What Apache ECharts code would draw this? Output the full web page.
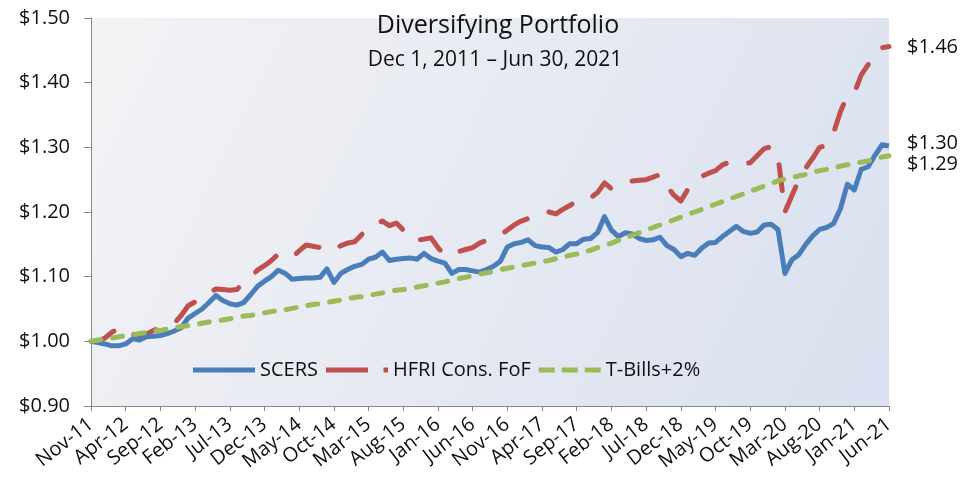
<!DOCTYPE html>
<html>
<head>
<meta charset="utf-8">
<script src="https://cdn.jsdelivr.net/npm/echarts@6/dist/echarts.min.js"></script>
<style>
  html, body { margin: 0; padding: 0; background: #fff; }
  #main { width: 972px; height: 482px; }
</style>
</head>
<body>
<div id="main"></div>
<script>
// monthly, Nov-11 .. Jun-21
const monthNames = ['Jan','Feb','Mar','Apr','May','Jun','Jul','Aug','Sep','Oct','Nov','Dec'];
const categories = [];
for (let k = 0; k < 116; k++) {
  const m = (10 + k) % 12;
  const y = 11 + Math.floor((10 + k) / 12);
  categories.push(monthNames[m] + '-' + String(y).padStart(2, '0'));
}

const tickLabels = ['Nov-11','Apr-12','Sep-12','Feb-13','Jul-13','Dec-13','May-14','Oct-14',
  'Mar-15','Aug-15','Jan-16','Jun-16','Nov-16','Apr-17','Sep-17','Feb-18','Jul-18','Dec-18',
  'May-19','Oct-19','Mar-20','Aug-20','Jan-21','Jun-21'];

const scers = [
  1.000, 0.998, 0.996, 0.993, 0.993, 0.996, 1.004, 1.002, 1.007, 1.008,
  1.009, 1.012, 1.016, 1.021, 1.036, 1.043, 1.050, 1.060, 1.071, 1.063,
  1.058, 1.056, 1.060, 1.072, 1.085, 1.093, 1.100, 1.110, 1.105, 1.096,
  1.097, 1.098, 1.098, 1.099, 1.112, 1.091, 1.105, 1.111, 1.116, 1.119,
  1.127, 1.130, 1.138, 1.125, 1.127, 1.128, 1.129, 1.127, 1.136, 1.128,
  1.124, 1.121, 1.105, 1.111, 1.111, 1.109, 1.107, 1.111, 1.116, 1.124,
  1.146, 1.151, 1.153, 1.157, 1.148, 1.146, 1.145, 1.138, 1.142, 1.151,
  1.151, 1.158, 1.159, 1.168, 1.193, 1.172, 1.162, 1.168, 1.166, 1.159,
  1.156, 1.157, 1.161, 1.148, 1.142, 1.131, 1.136, 1.133, 1.144, 1.152,
  1.153, 1.162, 1.170, 1.178, 1.170, 1.167, 1.169, 1.180, 1.181, 1.173,
  1.105, 1.126, 1.134, 1.150, 1.163, 1.173, 1.176, 1.182, 1.205, 1.243,
  1.234, 1.266, 1.270, 1.288, 1.304, 1.302
];

const hfri = [
  1.000, 1.000, 1.005, 1.014, 1.020, 1.021, 1.012, 1.004, 1.011, 1.017,
  1.021, 1.024, 1.028, 1.040, 1.055, 1.061, 1.068, 1.075, 1.081, 1.080,
  1.079, 1.080, 1.090, 1.100, 1.110, 1.117, 1.125, 1.135, 1.133, 1.130,
  1.140, 1.149, 1.147, 1.145, 1.142, 1.140, 1.148, 1.152, 1.154, 1.165,
  1.175, 1.181, 1.186, 1.179, 1.183, 1.172, 1.158, 1.156, 1.158, 1.160,
  1.145, 1.133, 1.134, 1.139, 1.142, 1.145, 1.152, 1.156, 1.160, 1.165,
  1.172, 1.180, 1.186, 1.190, 1.193, 1.198, 1.200, 1.197, 1.204, 1.210,
  1.217, 1.222, 1.222, 1.230, 1.245, 1.236, 1.240, 1.244, 1.248, 1.249,
  1.250, 1.254, 1.258, 1.240, 1.226, 1.217, 1.235, 1.249, 1.255, 1.260,
  1.264, 1.273, 1.277, 1.274, 1.275, 1.276, 1.287, 1.298, 1.301, 1.287,
  1.200, 1.225, 1.250, 1.268, 1.283, 1.300, 1.303, 1.322, 1.355, 1.380,
  1.384, 1.412, 1.428, 1.447, 1.454, 1.456
];

const tbills = [
  1.000, 1.002, 1.003, 1.005, 1.007, 1.009, 1.010, 1.012, 1.014, 1.016,
  1.017, 1.019, 1.021, 1.023, 1.024, 1.026, 1.028, 1.030, 1.031, 1.033,
  1.035, 1.037, 1.039, 1.040, 1.042, 1.044, 1.046, 1.048, 1.049, 1.051,
  1.053, 1.055, 1.057, 1.058, 1.060, 1.062, 1.064, 1.066, 1.068, 1.069,
  1.071, 1.073, 1.075, 1.077, 1.079, 1.080, 1.082, 1.084, 1.086, 1.088,
  1.090, 1.092, 1.095, 1.097, 1.099, 1.102, 1.104, 1.106, 1.108, 1.111,
  1.113, 1.115, 1.117, 1.119, 1.121, 1.123, 1.125, 1.128, 1.130, 1.133,
  1.135, 1.138, 1.141, 1.145, 1.148, 1.152, 1.156, 1.160, 1.164, 1.168,
  1.172, 1.176, 1.180, 1.184, 1.188, 1.192, 1.196, 1.200, 1.204, 1.208,
  1.212, 1.216, 1.220, 1.224, 1.228, 1.232, 1.236, 1.240, 1.244, 1.248,
  1.251, 1.253, 1.256, 1.258, 1.261, 1.264, 1.266, 1.268, 1.271, 1.273,
  1.275, 1.277, 1.279, 1.282, 1.285, 1.287
];

const FONT = 'Open Sans';
const chart = echarts.init(document.getElementById('main'));

const money = v => '$' + v.toFixed(2);

const option = {
  animation: false,
  textStyle: { fontFamily: FONT },
  title: [
    {
      text: 'Diversifying Portfolio',
      left: 493, top: 8, textAlign: 'center',
      textStyle: { fontFamily: FONT, fontSize: 25, fontWeight: 'normal', color: '#111' }
    },
    {
      text: 'Dec 1, 2011 \u2013 Jun 30, 2021',
      left: 490, top: 45, textAlign: 'center',
      textStyle: { fontFamily: FONT, fontSize: 21, fontWeight: 'normal', color: '#111' }
    }
  ],
  grid: {
    left: 91, right: 83, top: 18, bottom: 76,
    show: true,
    borderWidth: 0,
    backgroundColor: {
      type: 'linear', x: 0, y: 0, x2: 1, y2: 1,
      colorStops: [
        { offset: 0, color: '#f3f3f5' },
        { offset: 1, color: '#d9e0ef' }
      ]
    }
  },
  legend: {
    left: 188, top: 355,
    itemWidth: 62, itemHeight: 5, itemGap: 8,
    textStyle: { fontFamily: FONT, fontSize: 20, color: '#111' },
    data: [
      { name: 'SCERS', icon: 'path://M0,0H62V5H0Z' },
      { name: 'HFRI Cons. FoF', icon: 'path://M0,0H42V5H0Z M57.5,0H62V5H57.5Z' },
      { name: 'T-Bills+2%', icon: 'path://M0,0H16V5H0Z M23,0H39V5H23Z M46,0H62V5H46Z' }
    ]
  },
  xAxis: {
    type: 'category',
    data: categories,
    boundaryGap: false,
    axisLine: { lineStyle: { color: '#868686', width: 1 } },
    axisTick: { interval: 4, length: 5, lineStyle: { color: '#868686' } },
    axisLabel: {
      interval: 4,
      rotate: 38,
      margin: 16,
      fontSize: 20,
      color: '#111',
      formatter: (v, i) => tickLabels[i / 5] || v
    },
    splitLine: { show: false }
  },
  yAxis: {
    type: 'value',
    min: 0.9, max: 1.5, interval: 0.1,
    axisLine: { show: true, lineStyle: { color: '#868686', width: 1 } },
    axisTick: { show: true, length: 7, lineStyle: { color: '#868686' } },
    axisLabel: { fontSize: 20, color: '#111', margin: 21, formatter: money },
    splitLine: { show: false }
  },
  series: [
    {
      name: 'SCERS', type: 'line', data: scers,
      symbol: 'none', z: 3,
      color: '#4a7ebb',
      lineStyle: { width: 5, color: '#4a7ebb', join: 'round' },
      endLabel: { show: true, formatter: p => money(p.value), distance: 18, offset: [0, -3],
        fontSize: 20, color: '#111', fontFamily: FONT }
    },
    {
      name: 'HFRI Cons. FoF', type: 'line', data: hfri,
      symbol: 'none', z: 2,
      color: '#c0504d',
      lineStyle: { width: 5, color: '#c0504d', type: [26, 23], cap: 'round', join: 'round' },
      endLabel: { show: true, formatter: p => money(p.value), distance: 18, offset: [0, 1],
        fontSize: 20, color: '#111', fontFamily: FONT }
    },
    {
      name: 'T-Bills+2%', type: 'line', data: tbills,
      symbol: 'none', z: 4,
      color: '#9bbb59',
      lineStyle: { width: 5, color: '#9bbb59', type: [10, 12], cap: 'round', join: 'round' },
      endLabel: { show: true, formatter: p => money(p.value), distance: 18, offset: [0, 9],
        fontSize: 20, color: '#111', fontFamily: FONT }
    }
  ]
};

chart.setOption(option);
</script>
</body>
</html>
